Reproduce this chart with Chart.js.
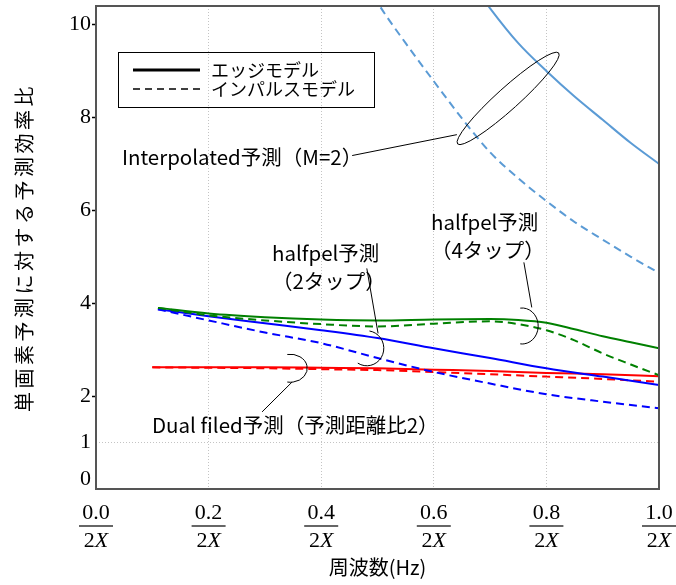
<!DOCTYPE html>
<html>
<head>
<meta charset="utf-8">
<script src="https://cdn.jsdelivr.net/npm/chart.js@4.4.1/dist/chart.umd.min.js"></script>
<style>
  html, body { margin: 0; padding: 0; background: #fff; }
  #wrap { width: 676px; height: 585px; position: relative; }
</style>
</head>
<body>
<div id="wrap"><canvas id="chart"></canvas></div>
<script>
// Frequency axis: fractions of 1/(2X)
const xTickValues = [0, 0.2, 0.4, 0.6, 0.8, 1.0];
const xTickLabels = ['0.0', '0.2', '0.4', '0.6', '0.8', '1.0'];
const yTickValues = [0, 1, 2, 4, 6, 8, 10];

// Interpolated prediction (M=2)
const freqInterpEdge = [0.65, 0.7, 0.75, 0.8, 0.85, 0.9, 0.95, 1.0];
const interpEdge     = [11.2, 10.35, 9.6, 9.0, 8.45, 7.95, 7.45, 7.0];
const freqInterpImp  = [0.45, 0.5, 0.55, 0.6, 0.65, 0.7, 0.75, 0.8, 0.85, 0.9, 0.95, 1.0];
const interpImp      = [11.6, 10.48, 9.6, 8.78, 7.98, 7.25, 6.69, 6.2, 5.75, 5.37, 5.0, 4.65];

// halfpel prediction, 4 taps
const freqHalf4 = [0.11, 0.2, 0.3, 0.4, 0.5, 0.6, 0.7, 0.75, 0.8, 0.85, 0.9, 0.95, 1.0];
const half4Edge = [3.9, 3.78, 3.7, 3.65, 3.63, 3.65, 3.66, 3.64, 3.58, 3.44, 3.29, 3.16, 3.03];
const half4Imp  = [3.9, 3.74, 3.63, 3.55, 3.5, 3.56, 3.61, 3.55, 3.42, 3.2, 2.92, 2.68, 2.45];

// halfpel prediction, 2 taps
const freqHalf2 = [0.11, 0.2, 0.3, 0.4, 0.5, 0.6, 0.7, 0.8, 0.9, 1.0];
const half2Edge = [3.87, 3.72, 3.57, 3.42, 3.25, 3.03, 2.82, 2.6, 2.42, 2.24];
const half2Imp  = [3.87, 3.63, 3.37, 3.14, 2.82, 2.52, 2.27, 2.04, 1.88, 1.74];

// Dual field prediction (distance ratio 2)
const freqDual = [0.1, 0.2, 0.3, 0.4, 0.5, 0.6, 0.7, 0.8, 0.9, 1.0];
const dualEdge = [2.62, 2.62, 2.62, 2.61, 2.6, 2.57, 2.54, 2.5, 2.47, 2.43];
const dualImp  = [2.62, 2.61, 2.6, 2.58, 2.56, 2.52, 2.47, 2.42, 2.37, 2.31];

const legendLabels = ['エッジモデル', 'インパルスモデル'];
const xTitle = '周波数(Hz)';
const yTitle = '単画素予測に対する予測効率比';

const JP = '"Noto Sans CJK JP", "Noto Sans", sans-serif';
const SERIF = '"Liberation Serif", "DejaVu Serif", serif';

const pts = (xs, ys) => xs.map((x, i) => ({ x, y: ys[i] }));
const DASH = [8, 5];

function series(xs, ys, color, dashed) {
  return {
    data: pts(xs, ys),
    borderColor: color,
    borderWidth: 2,
    borderDash: dashed ? DASH : [],
    pointRadius: 0,
    cubicInterpolationMode: 'monotone',
    fill: false
  };
}

// Callout labels, leader lines and brackets, placed in data units
const callouts = [
  { lines: ['Interpolated予測（M=2）'], at: [0.046, 7.14],
    leader: [[0.455, 7.18], [0.641, 7.63]],
    ring: { c: [0.732, 8.41], rx: 68, ry: 11, rot: -42, a0: 0, a1: 360 } },
  { lines: ['halfpel予測', '（2タップ）'], at: [0.3126, 5.08],
    leader: [[0.481, 4.75], [0.501, 3.35]],
    ring: { c: [0.481, 3.03], rx: 17, ry: 17.5, rot: 0, a0: -81, a1: 122 } },
  { lines: ['halfpel予測', '（4タップ）'], at: [0.595, 5.74],
    leader: [[0.760, 4.88], [0.774, 3.91]],
    ring: { c: [0.757, 3.51], rx: 16, ry: 18, rot: 0, a0: -97, a1: 97 } },
  { lines: ['Dual filed予測（予測距離比2）'], at: [0.0995, 1.38],
    leader: [[0.348, 2.30], [0.295, 1.66]],
    ring: { c: [0.345, 2.60], rx: 17, ry: 14, rot: 0, a0: -100, a1: 100 } }
];

const decorations = {
  id: 'decorations',
  afterDraw(chart) {
    const { ctx, chartArea: a, scales: { x, y } } = chart;
    const X = v => x.getPixelForValue(v);
    const Y = v => y.getPixelForValue(v);
    ctx.save();

    // plot frame
    ctx.strokeStyle = '#555';
    ctx.lineWidth = 2;
    ctx.setLineDash([]);
    ctx.strokeRect(a.left, a.top, a.right - a.left, a.bottom - a.top);

    // fraction tick labels on the frequency axis
    ctx.fillStyle = '#000';
    ctx.textBaseline = 'middle';
    xTickValues.forEach((v, i) => {
      const cx = X(v);
      ctx.font = '22px ' + SERIF;
      ctx.textAlign = 'center';
      ctx.fillText(xTickLabels[i], cx, a.bottom + 24);
      ctx.strokeStyle = '#333';
      ctx.lineWidth = 1.5;
      ctx.beginPath();
      ctx.moveTo(cx - 17, a.bottom + 37);
      ctx.lineTo(cx + 17, a.bottom + 37);
      ctx.stroke();
      ctx.font = '22px ' + SERIF;
      const w2 = ctx.measureText('2').width;
      ctx.font = 'italic 22px ' + SERIF;
      const wX = ctx.measureText('X').width;
      const left = cx - (w2 + wX) / 2;
      ctx.textAlign = 'left';
      ctx.font = '22px ' + SERIF;
      ctx.fillText('2', left, a.bottom + 52);
      ctx.font = 'italic 22px ' + SERIF;
      ctx.fillText('X', left + w2, a.bottom + 52);
    });

    // axis titles
    ctx.font = '20px ' + JP;
    ctx.textAlign = 'center';
    ctx.fillText(xTitle, (a.left + a.right) / 2, a.bottom + 78);
    ctx.save();
    ctx.translate(24, (a.top + a.bottom) / 2);
    ctx.rotate(-Math.PI / 2);
    ctx.letterSpacing = '3.5px';
    ctx.fillText(yTitle, 0, 0);
    ctx.restore();

    // legend
    const lx = a.left + 22, ly = a.top + 46;
    ctx.strokeStyle = '#000';
    ctx.lineWidth = 1;
    ctx.strokeRect(lx + 0.5, ly + 0.5, 256, 55);
    ctx.lineWidth = 3;
    ctx.beginPath();
    ctx.moveTo(lx + 15, ly + 18);
    ctx.lineTo(lx + 82, ly + 18);
    ctx.stroke();
    ctx.lineWidth = 1.5;
    ctx.setLineDash([7, 5]);
    ctx.beginPath();
    ctx.moveTo(lx + 15, ly + 37);
    ctx.lineTo(lx + 82, ly + 37);
    ctx.stroke();
    ctx.setLineDash([]);
    ctx.font = '18px ' + JP;
    ctx.textAlign = 'left';
    ctx.fillText(legendLabels[0], lx + 93, ly + 18);
    ctx.fillText(legendLabels[1], lx + 93, ly + 37);

    // callouts
    ctx.font = '20.5px ' + JP;
    ctx.strokeStyle = '#000';
    ctx.lineWidth = 1;
    callouts.forEach(cl => {
      cl.lines.forEach((t, k) => ctx.fillText(t, X(cl.at[0]), Y(cl.at[1]) + k * 28));
      ctx.beginPath();
      ctx.moveTo(X(cl.leader[0][0]), Y(cl.leader[0][1]));
      ctx.lineTo(X(cl.leader[1][0]), Y(cl.leader[1][1]));
      ctx.stroke();
      const r = cl.ring;
      ctx.beginPath();
      ctx.ellipse(X(r.c[0]), Y(r.c[1]), r.rx, r.ry, r.rot * Math.PI / 180,
                  r.a0 * Math.PI / 180, r.a1 * Math.PI / 180);
      ctx.stroke();
    });

    ctx.restore();
  }
};

new Chart(document.getElementById('chart'), {
  type: 'line',
  data: {
    datasets: [
      series(freqInterpEdge, interpEdge, '#5b9bd5', false),
      series(freqInterpImp, interpImp, '#5b9bd5', true),
      series(freqHalf4, half4Edge, '#008000', false),
      series(freqHalf4, half4Imp, '#008000', true),
      series(freqHalf2, half2Edge, '#0000ff', false),
      series(freqHalf2, half2Imp, '#0000ff', true),
      series(freqDual, dualEdge, '#ff0000', false),
      series(freqDual, dualImp, '#ff0000', true)
    ]
  },
  options: {
    responsive: true,
    maintainAspectRatio: false,
    devicePixelRatio: 1,
    animation: false,
    layout: { padding: { top: 6, right: 17, left: 0, bottom: 0 } },
    plugins: { legend: { display: false }, tooltip: { enabled: false } },
    scales: {
      x: {
        type: 'linear',
        min: 0, max: 1,
        afterBuildTicks: s => { s.ticks = xTickValues.map(v => ({ value: v })); },
        ticks: { display: false },
        grid: {
          color: c => (c.tick && c.tick.value > 0 && c.tick.value < 1) ? '#c4c4c4' : 'rgba(0,0,0,0)',
          lineWidth: 1,
          drawTicks: false
        },
        border: { display: false, dash: [1, 2] },
        afterFit: s => { s.height = 96; s.paddingLeft = 0; s.paddingRight = 0; }
      },
      y: {
        type: 'linear',
        min: 0, max: 10.4,
        afterBuildTicks: s => { s.ticks = yTickValues.map(v => ({ value: v })); },
        ticks: {
          color: '#000',
          font: { family: SERIF, size: 22, lineHeight: 0.85 },
          padding: 1,
          autoSkip: false,
          // the zero label sits just above the frequency axis line
          callback: v => (v === 0 ? ['0', ''] : String(v))
        },
        grid: {
          color: c => (c.tick && c.tick.value === 1) ? '#c4c4c4' : 'rgba(0,0,0,0)',
          tickColor: c => (c.tick && c.tick.value >= 2) ? '#000' : 'rgba(0,0,0,0)',
          tickLength: 4,
          tickWidth: 1.5
        },
        border: { display: false, dash: [1, 2] },
        afterFit: s => { s.width = 96; s.paddingTop = 0; s.paddingBottom = 0; }
      }
    }
  },
  plugins: [decorations]
});
</script>
</body>
</html>
